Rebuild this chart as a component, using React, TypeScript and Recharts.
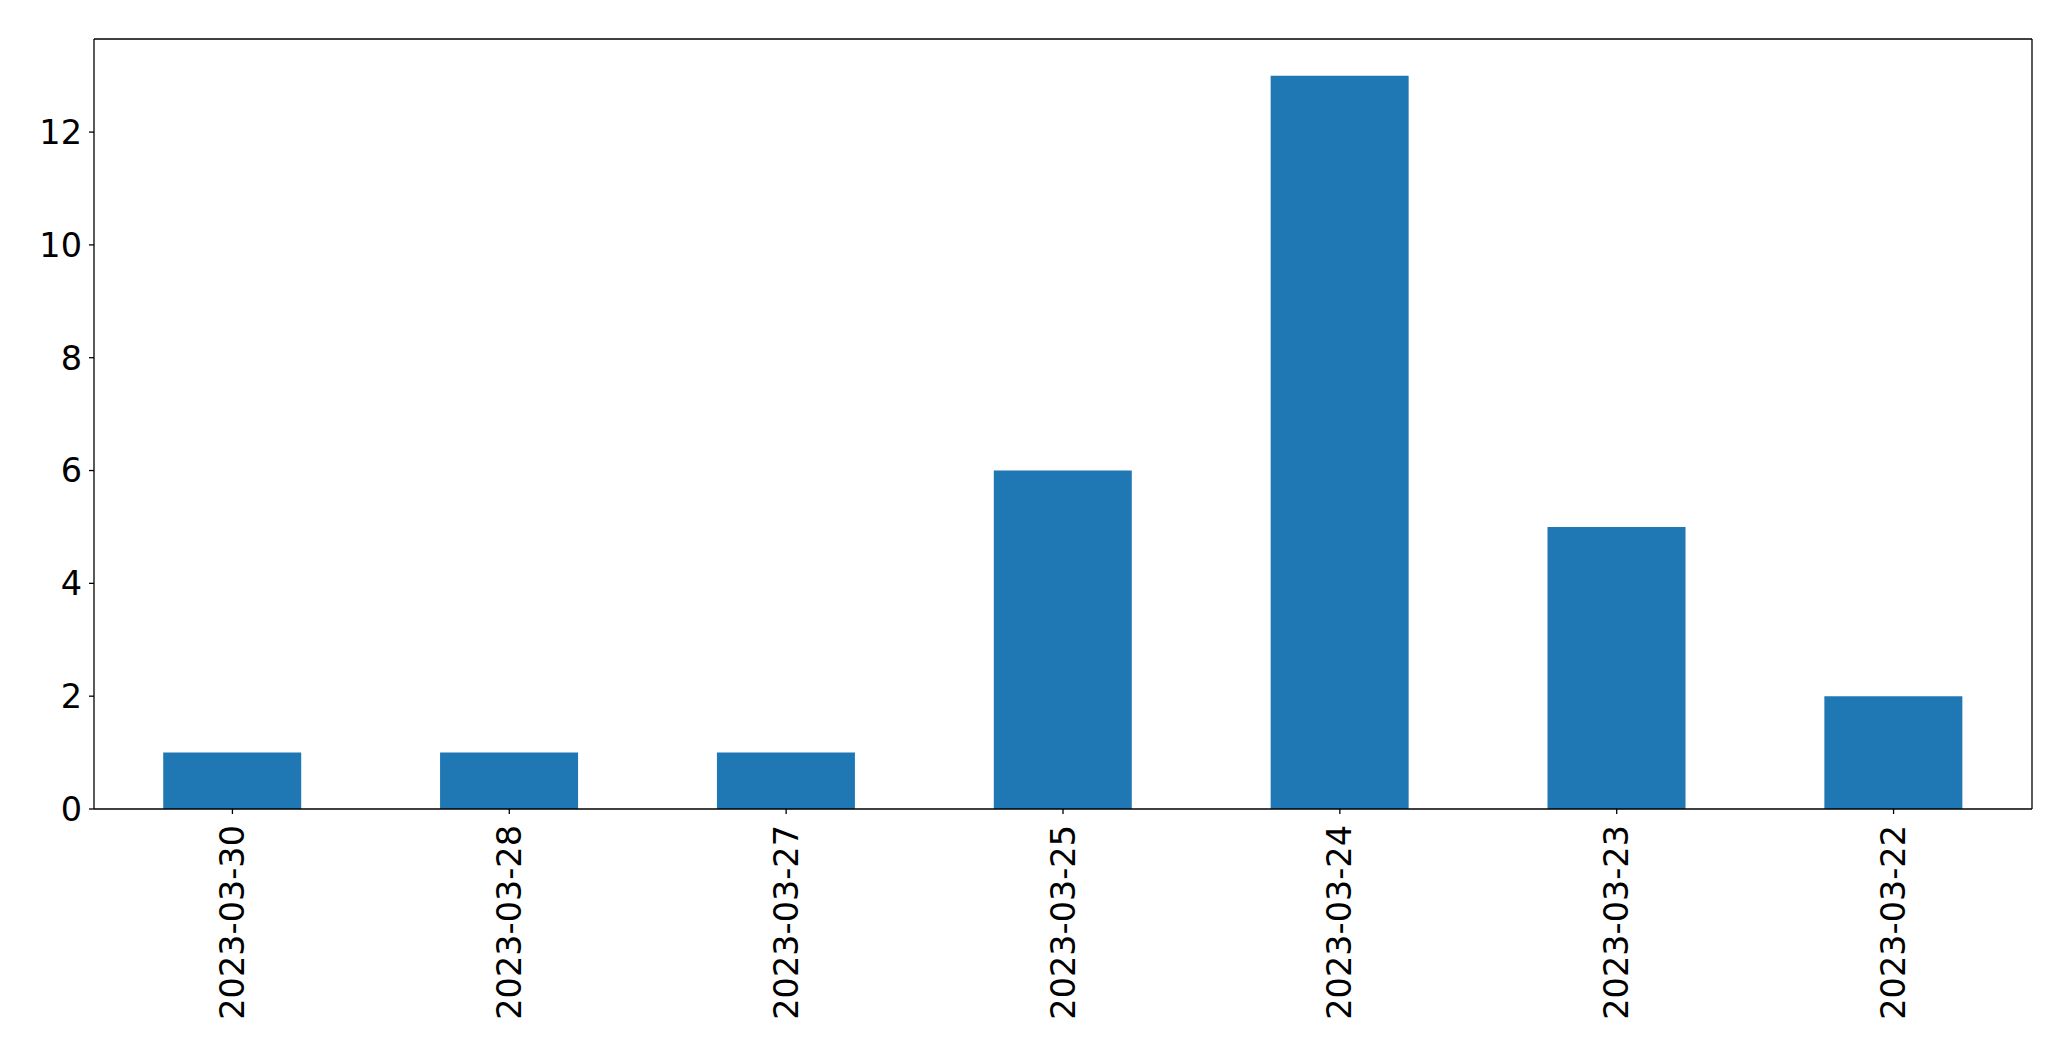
import { BarChart, Bar, XAxis, YAxis, CartesianGrid } from 'recharts'

const days = ['2023-03-30', '2023-03-28', '2023-03-27', '2023-03-25', '2023-03-24', '2023-03-23', '2023-03-22']
const counts = [1, 1, 1, 6, 13, 5, 2]
const yTicks = [0, 2, 4, 6, 8, 10, 12]

const FONT = '"DejaVu Sans", sans-serif'
const FONT_SIZE = 33.5

const data = days.map((day, i) => ({ day, count: counts[i] }))

function DayTick({ x, y, payload }: { x: number; y: number; payload: { value: string } }) {
  return (
    <text
      x={x}
      y={y}
      transform={`rotate(-90, ${x}, ${y})`}
      textAnchor="end"
      dominantBaseline="central"
      fontFamily={FONT}
      fontSize={FONT_SIZE}
      fill="#000"
    >
      {payload.value}
    </text>
  )
}

export default function App() {
  return (
    <div style={{ position: 'absolute', left: 0, top: 0, background: '#fff' }}>
      <BarChart
        width={2071}
        height={1061}
        data={data}
        margin={{ top: 39, right: 39, left: 14, bottom: 12 }}
        barCategoryGap="25%"
      >
        {/* top + right frame lines, like the matplotlib box */}
        <CartesianGrid
          stroke="#000"
          strokeWidth={1.3}
          horizontalCoordinatesGenerator={({ offset }: any) => [offset.top]}
          verticalCoordinatesGenerator={({ offset }: any) => [offset.left + offset.width]}
        />
        <XAxis
          dataKey="day"
          height={240}
          interval={0}
          tick={DayTick as any}
          tickSize={5}
          tickMargin={11}
          axisLine={{ stroke: '#000', strokeWidth: 1.3 }}
          tickLine={{ stroke: '#000', strokeWidth: 1.3 }}
        />
        <YAxis
          width={80}
          domain={[0, 13.65]}
          ticks={yTicks}
          interval={0}
          tickSize={5}
          tickMargin={7}
          tick={{ fontFamily: FONT, fontSize: FONT_SIZE, fill: '#000' }}
          axisLine={{ stroke: '#000', strokeWidth: 1.3 }}
          tickLine={{ stroke: '#000', strokeWidth: 1.3 }}
        />
        <Bar dataKey="count" fill="#1f77b4" isAnimationActive={false} />
      </BarChart>
    </div>
  )
}
